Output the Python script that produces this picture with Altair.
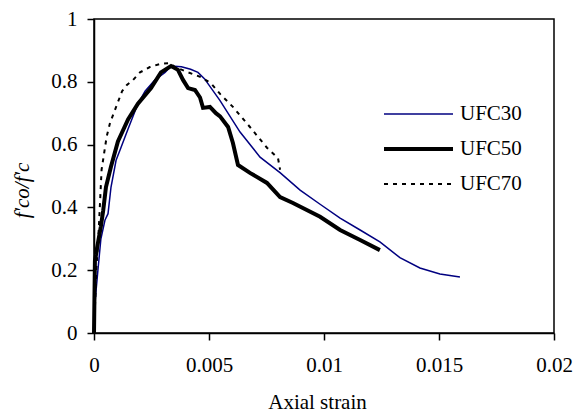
import altair as alt
import pandas as pd

series_names = ["UFC30", "UFC50", "UFC70"]

# UFC30 stress-strain curve
ufc30_strain = [0.0, 0.00004, 0.00017, 0.0003, 0.00048, 0.00061, 0.00074, 0.00096,
                0.00117, 0.00148, 0.00191, 0.00222, 0.00265, 0.00309, 0.00335,
                0.0038, 0.0042, 0.00452, 0.0048, 0.00548, 0.00635, 0.00722,
                0.0081, 0.00896, 0.00983, 0.0107, 0.01157, 0.01243, 0.0133,
                0.01417, 0.01504, 0.01591]
ufc30_ratio = [0.0, 0.095, 0.2, 0.3, 0.36, 0.38, 0.465, 0.55,
               0.59, 0.65, 0.73, 0.77, 0.806, 0.83, 0.85,
               0.848, 0.84, 0.83, 0.81, 0.74, 0.64, 0.56,
               0.51, 0.455, 0.41, 0.366, 0.328, 0.29, 0.24,
               0.207, 0.188, 0.178]

# UFC50 stress-strain curve
ufc50_strain = [0.0, 0.00004, 0.00009, 0.00013, 0.0003, 0.0004, 0.00052, 0.00074,
                0.00104, 0.00148, 0.00191, 0.00248, 0.00291, 0.00335, 0.00365,
                0.00387, 0.00409, 0.00439, 0.00461, 0.00474, 0.00504, 0.0053,
                0.00548, 0.00583, 0.00604, 0.00626, 0.00678, 0.00752, 0.00809,
                0.00865, 0.00983, 0.0107, 0.01157, 0.01243]
ufc50_ratio = [0.0, 0.23, 0.25, 0.27, 0.34, 0.39, 0.465, 0.53,
               0.61, 0.68, 0.73, 0.78, 0.83, 0.85, 0.838,
               0.806, 0.78, 0.774, 0.75, 0.717, 0.72, 0.70,
               0.69, 0.656, 0.605, 0.535, 0.51, 0.478, 0.433,
               0.414, 0.37, 0.328, 0.296, 0.264]

# UFC70 stress-strain curve
ufc70_strain = [0.0, 0.0001, 0.0002, 0.00033, 0.00055, 0.0007, 0.00091, 0.00122,
                0.00143, 0.0017, 0.002, 0.00243, 0.00287, 0.0033, 0.00352,
                0.00409, 0.00465, 0.00509, 0.0055, 0.00604, 0.00678, 0.00752,
                0.008, 0.00809]
ufc70_ratio = [0.0, 0.2, 0.32, 0.52, 0.625, 0.67, 0.71, 0.77,
               0.79, 0.806, 0.83, 0.847, 0.857, 0.86, 0.847,
               0.83, 0.815, 0.795, 0.76, 0.72, 0.656, 0.59,
               0.557, 0.52]

x_ticks = [0, 0.005, 0.01, 0.015, 0.02]
y_ticks = [0, 0.2, 0.4, 0.6, 0.8, 1.0]

FONT = "Liberation Serif"
FS = 21

# line style for each specimen
styles = {
    "UFC30": {"color": "#000080", "strokeWidth": 1.5},
    "UFC50": {"color": "#000000", "strokeWidth": 4},
    "UFC70": {"color": "#000000", "strokeWidth": 2, "strokeDash": [4, 5]},
}

curves = {
    "UFC30": (ufc30_strain, ufc30_ratio),
    "UFC50": (ufc50_strain, ufc50_ratio),
    "UFC70": (ufc70_strain, ufc70_ratio),
}

x_enc = alt.X(
    "strain:Q",
    scale=alt.Scale(domain=[0, 0.02], nice=False),
    axis=alt.Axis(values=x_ticks, format="~g", title="Axial strain",
                  grid=False, labelFlush=False, labelOverlap=False,
                  labelFont=FONT, titleFont=FONT,
                  labelPadding=14, titleX=223, titleY=75,
                  titleBaseline="alphabetic"),
)
y_enc = alt.Y(
    "ratio:Q",
    scale=alt.Scale(domain=[0, 1], nice=False),
    axis=alt.Axis(values=y_ticks, format="~g", title="f'co/f'c",
                  titleFontStyle="italic", grid=False,
                  labelFont=FONT, titleFont=FONT,
                  labelFlush=False, labelOverlap=False,
                  labelPadding=10, titleX=-66, titleY=171,
                  titleAngle=-90, titleAlign="center",
                  titleBaseline="alphabetic"),
)

curve_layers = []
for name in series_names:
    xs, ys = curves[name]
    d = pd.DataFrame({"strain": xs, "ratio": ys, "seq": list(range(len(xs)))})
    curve_layers.append(
        alt.Chart(d).mark_line(**styles[name]).encode(
            x=x_enc, y=y_enc, order="seq:Q"
        )
    )
curves_chart = alt.layer(*curve_layers)

# legend: a short sample line and the specimen name, one row per series
legend_y = alt.Y("series:N",
                 scale=alt.Scale(domain=series_names, range=[95, 165],
                                 type="point", padding=0),
                 axis=None)
legend_layers = []
for name in series_names:
    ld = pd.DataFrame({"series": [name]})
    legend_layers.append(
        alt.Chart(ld).mark_rule(**styles[name]).encode(
            x=alt.value(290), x2=alt.value(359), y=legend_y
        )
    )
legend_layers.append(
    alt.Chart(pd.DataFrame({"series": series_names})).mark_text(
        align="left", baseline="middle", font=FONT, fontSize=FS, color="black"
    ).encode(x=alt.value(366), y=legend_y, text="series:N")
)
legend_chart = alt.layer(*legend_layers)

chart = alt.layer(curves_chart, legend_chart).resolve_scale(
    y="independent"
).properties(
    width=460, height=314,
    autosize=alt.AutoSizeParams(type="none"),
    padding={"left": 94, "top": 19, "right": 20, "bottom": 79},
    background="white",
).configure(
    font=FONT,
).configure_view(
    stroke="black", strokeWidth=1.5,
).configure_axis(
    labelFont=FONT, labelFontSize=FS, labelColor="black",
    titleFont=FONT, titleFontSize=FS, titleColor="black",
    titleFontWeight="normal",
    domainColor="black", domainWidth=1.5,
    tickColor="black", tickWidth=1.5, tickSize=7,
)

chart.save("out.html", embed_options={"renderer": "svg", "actions": False})
